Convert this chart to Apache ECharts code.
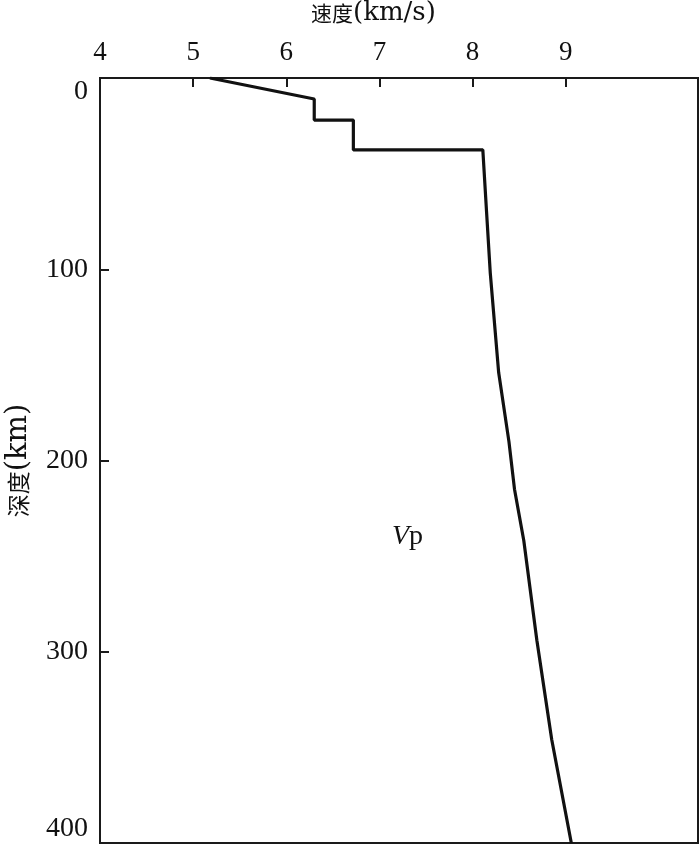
<!DOCTYPE html>
<html>
<head>
<meta charset="utf-8">
<script src="https://cdn.jsdelivr.net/npm/echarts@6/dist/echarts.min.js"></script>
<style>
  html, body { margin: 0; padding: 0; background: #fff; }
  #chart { width: 700px; height: 845px; }
</style>
</head>
<body>
<div id="chart"></div>
<script>
// P波速度剖面 (速度 km/s, 深度 km)
const velocity = [5.18, 6.30, 6.30, 6.72, 6.72, 8.11, 8.15, 8.19, 8.28, 8.39, 8.45, 8.55, 8.69, 8.85, 9.06];
const depth    = [0,    11,   22,   22,   37.6, 37.6, 70,   102,  154,  190,  215,  242,  294,  346,  400];
const xTicks = [4, 5, 6, 7, 8, 9];
const yTicks = [0, 100, 200, 300, 400];

const serif = '"Liberation Serif", "Noto Sans CJK SC", serif';
const wideSerif = '"DejaVu Serif", "Liberation Serif", serif';
const cjk = '"Noto Sans CJK SC", serif';
const axisColor = '#1a1a1a';

const chart = echarts.init(document.getElementById('chart'));

const option = {
  backgroundColor: '#fff',
  animation: false,
  grid: {
    left: 100,
    right: 2,
    top: 78,
    bottom: 2,
    outerBoundsMode: 'none',
    show: true,
    borderColor: axisColor,
    borderWidth: 2
  },
  xAxis: {
    type: 'value',
    position: 'top',
    min: 4,
    max: 10.42,
    interval: 1,
    axisLine: { show: true, lineStyle: { color: axisColor, width: 2 } },
    axisTick: {
      show: true,
      inside: true,
      length: 9,
      customValues: xTicks,
      lineStyle: { color: axisColor, width: 2 }
    },
    axisLabel: {
      customValues: xTicks,
      margin: 12,
      fontFamily: serif,
      fontSize: 27,
      color: '#111'
    },
    splitLine: { show: false }
  },
  yAxis: {
    type: 'value',
    inverse: true,
    min: 0,
    max: 400,
    interval: 100,
    name: '{c|深度}{l|(km)}',
    nameLocation: 'middle',
    nameRotate: 90,
    nameGap: 67,
    nameTextStyle: {
      color: '#111',
      rich: {
        c: { fontFamily: cjk, fontSize: 23, color: '#111' },
        l: { fontFamily: wideSerif, fontSize: 29, color: '#111' }
      }
    },
    axisLine: { show: true, lineStyle: { color: axisColor, width: 2 } },
    axisTick: {
      show: true,
      inside: true,
      length: 9,
      customValues: yTicks,
      lineStyle: { color: axisColor, width: 2 }
    },
    axisLabel: {
      customValues: yTicks,
      margin: 12,
      fontFamily: serif,
      fontSize: 28,
      color: '#111',
      verticalAlignMinLabel: 'top',
      verticalAlignMaxLabel: 'bottom'
    },
    splitLine: { show: false }
  },
  graphic: [
    {
      type: 'text',
      left: 311,
      top: 0,
      style: {
        text: '{c|速度}{l|(km/s)}',
        rich: {
          c: { fontFamily: cjk, fontSize: 21, fill: '#111' },
          l: { fontFamily: wideSerif, fontSize: 26, fill: '#111' }
        }
      }
    },
    {
      type: 'text',
      left: 392,
      top: 523,
      style: {
        text: '{i|V}{n|p}',
        rich: {
          i: { fontStyle: 'italic', fontSize: 28, fontFamily: serif, fill: '#111' },
          n: { fontSize: 28, fontFamily: serif, fill: '#111' }
        }
      }
    }
  ],
  series: [{
    name: 'Vp',
    type: 'line',
    data: velocity.map((v, i) => [v, depth[i]]),
    showSymbol: false,
    smooth: false,
    lineStyle: { color: '#111', width: 3.2 },
    clip: true
  }]
};

chart.setOption(option);
</script>
</body>
</html>
